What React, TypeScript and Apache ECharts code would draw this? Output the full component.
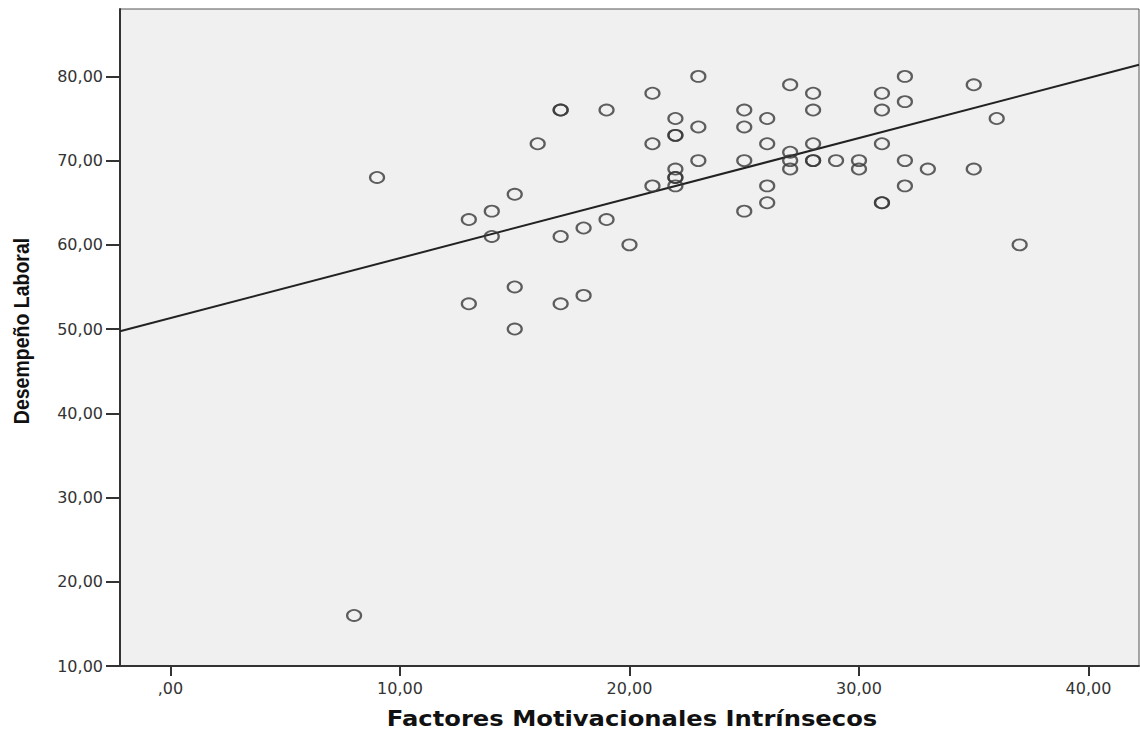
import React, { useEffect, useRef } from "react";
import * as echarts from "echarts";

// Factores Motivacionales Intrínsecos (x) vs Desempeño Laboral (y)
const xValues = [
  8, 9, 13, 13, 14, 14, 15, 15, 15, 16,
  17, 17, 17, 17, 18, 18, 19, 19, 20,
  21, 21, 21, 22, 22, 22, 22, 22, 22, 22, 23, 23, 23,
  25, 25, 25, 25, 26, 26, 26, 26, 27, 27, 27, 27,
  28, 28, 28, 28, 28, 29, 30, 30,
  31, 31, 31, 31, 31, 32, 32, 32, 32, 33, 35, 35, 36, 37,
];
const yValues = [
  16, 68, 63, 53, 64, 61, 66, 55, 50, 72,
  76, 76, 61, 53, 62, 54, 76, 63, 60,
  78, 72, 67, 75, 73, 73, 69, 68, 68, 67, 80, 74, 70,
  76, 74, 70, 64, 75, 72, 67, 65, 79, 71, 70, 69,
  78, 76, 72, 70, 70, 70, 70, 69,
  78, 76, 72, 65, 65, 80, 77, 70, 67, 69, 79, 69, 75, 60,
];
const xTicks = [0, 10, 20, 30, 40];
const yTicks = [10, 20, 30, 40, 50, 60, 70, 80];
const xMin = -2.2;
const xMax = 42.2;
const yMin = 10;
const yMax = 88;
const xTitle = "Factores Motivacionales Intrínsecos";
const yTitle = "Desempeño Laboral";

function fmt(v: number): string {
  if (v === 0) return ",00";
  return v.toFixed(2).replace(".", ",");
}

export default function App() {
  const ref = useRef<HTMLDivElement>(null);
  useEffect(() => {
    if (!ref.current) return;
    const chart = echarts.init(ref.current, null, { renderer: "svg" });
    const points = xValues.map((x, i) => [x, yValues[i]]);
    const n = xValues.length;
    const mx = xValues.reduce((a, b) => a + b, 0) / n;
    const my = yValues.reduce((a, b) => a + b, 0) / n;
    let sxy = 0;
    let sxx = 0;
    for (let i = 0; i < n; i++) {
      sxy += (xValues[i] - mx) * (yValues[i] - my);
      sxx += (xValues[i] - mx) * (xValues[i] - mx);
    }
    const slope = sxy / sxx;
    const intercept = my - slope * mx;
    const fit = [
      [xMin, intercept + slope * xMin],
      [xMax, intercept + slope * xMax],
    ];
    const axisFont = { fontFamily: "DejaVu Sans", fontSize: 16, color: "#333" };
    chart.setOption({
      animation: false,
      backgroundColor: "#ffffff",
      grid: {
        left: 120,
        right: 1,
        top: 9,
        bottom: 69,
        show: true,
        backgroundColor: "#f0f0f0",
        borderColor: "#555",
        borderWidth: 1,
      },
      xAxis: {
        type: "value",
        min: xMin,
        max: xMax,
        splitLine: { show: false },
        axisLine: { show: true, onZero: false, lineStyle: { color: "#333", width: 2 } },
        axisTick: {
          show: true,
          customValues: xTicks,
          length: 10,
          lineStyle: { color: "#333", width: 2 },
        },
        axisLabel: {
          customValues: xTicks,
          formatter: fmt,
          margin: 14,
          ...axisFont,
        },
      },
      yAxis: {
        type: "value",
        min: yMin,
        max: yMax,
        splitLine: { show: false },
        axisLine: { show: true, onZero: false, lineStyle: { color: "#333", width: 2 } },
        axisTick: {
          show: true,
          customValues: yTicks,
          length: 14,
          lineStyle: { color: "#333", width: 2 },
        },
        axisLabel: {
          customValues: yTicks,
          formatter: fmt,
          margin: 17,
          ...axisFont,
        },
      },
      graphic: [
        {
          type: "text",
          x: 632,
          y: 719,
          scaleX: 1.155,
          style: {
            text: xTitle,
            fontFamily: "DejaVu Sans",
            fontWeight: "bold",
            fontSize: 21,
            fill: "#111",
            textAlign: "center",
            textVerticalAlign: "middle",
          },
        },
        {
          type: "text",
          x: 21,
          y: 331,
          rotation: Math.PI / 2,
          scaleY: 1.15,
          style: {
            text: yTitle,
            fontFamily: "Liberation Sans",
            fontWeight: "bold",
            fontSize: 19.5,
            fill: "#111",
            textAlign: "center",
            textVerticalAlign: "middle",
          },
        },
      ],
      series: [
        {
          type: "line",
          data: fit,
          symbol: "none",
          silent: true,
          lineStyle: { color: "#222", width: 2 },
          z: 3,
        },
        {
          type: "scatter",
          data: points,
          symbol: "circle",
          symbolSize: [14, 11],
          itemStyle: {
            color: "rgba(0,0,0,0)",
            borderColor: "#383838",
            borderWidth: 2,
          },
          z: 4,
        },
      ],
    });
    return () => chart.dispose();
  }, []);
  return (
    <div
      ref={ref}
      style={{ position: "fixed", left: 0, top: 0, width: 1140, height: 735 }}
    />
  );
}
